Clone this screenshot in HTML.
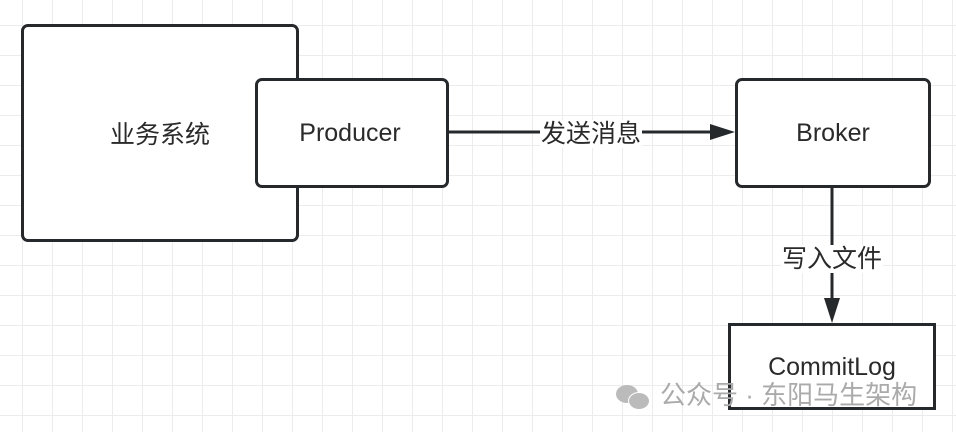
<!DOCTYPE html>
<html><head><meta charset="utf-8"><style>
body{margin:0;width:956px;height:432px;overflow:hidden;background:#fff;
background-image:linear-gradient(#ececec 1px,transparent 1px),linear-gradient(90deg,#ececec 1px,transparent 1px);
background-size:30px 30px;background-position:22px 25px;font-family:"Liberation Sans","Noto Sans CJK SC",sans-serif;}
.b{position:absolute;box-sizing:border-box;border:3px solid #26292c;background:#fff;border-radius:7px;display:flex;align-items:center;justify-content:center;font-size:25px;color:#2a2a2a;}
.l{position:absolute;font-size:25px;color:#2a2a2a;background:#fff;padding:0 1px;line-height:28px}
</style></head><body>
<div class="b" style="left:21px;top:24px;width:278px;height:218px">业务系统</div>
<div class="b" style="left:255px;top:78px;width:194px;height:110px;padding-right:4px">Producer</div>
<div class="b" style="left:735px;top:78px;width:196px;height:110px">Broker</div>
<div class="b" style="left:728px;top:323px;width:208px;height:87px;border-radius:0;padding-top:2px">CommitLog</div>
<svg style="position:absolute;left:0;top:0" width="956" height="432">
<line x1="449" y1="132" x2="712" y2="132" stroke="#26292c" stroke-width="3"/>
<polygon points="735,132 710,124 710,140" fill="#26292c"/>
<line x1="832" y1="188" x2="832" y2="300" stroke="#26292c" stroke-width="3"/>
<polygon points="832,323 824,298 840,298" fill="#26292c"/>
</svg>
<div class="l" style="left:540px;top:120px">发送消息</div>
<div class="l" style="left:781px;top:245px">写入文件</div>
<div style="position:absolute;left:616px;top:380px;font-size:26px;color:#aaa;line-height:30px;white-space:nowrap">
<span style="display:inline-block;width:44px;height:26px;vertical-align:middle;position:relative">
<span style="position:absolute;left:0;top:1px;width:22px;height:18px;border-radius:50%;background:#bbb"></span>
<span style="position:absolute;left:12px;top:8px;width:20px;height:16px;border-radius:50%;background:#bbb;border:1px solid #fff"></span></span>公众号 · 东阳马生架构</div>
</body></html>
